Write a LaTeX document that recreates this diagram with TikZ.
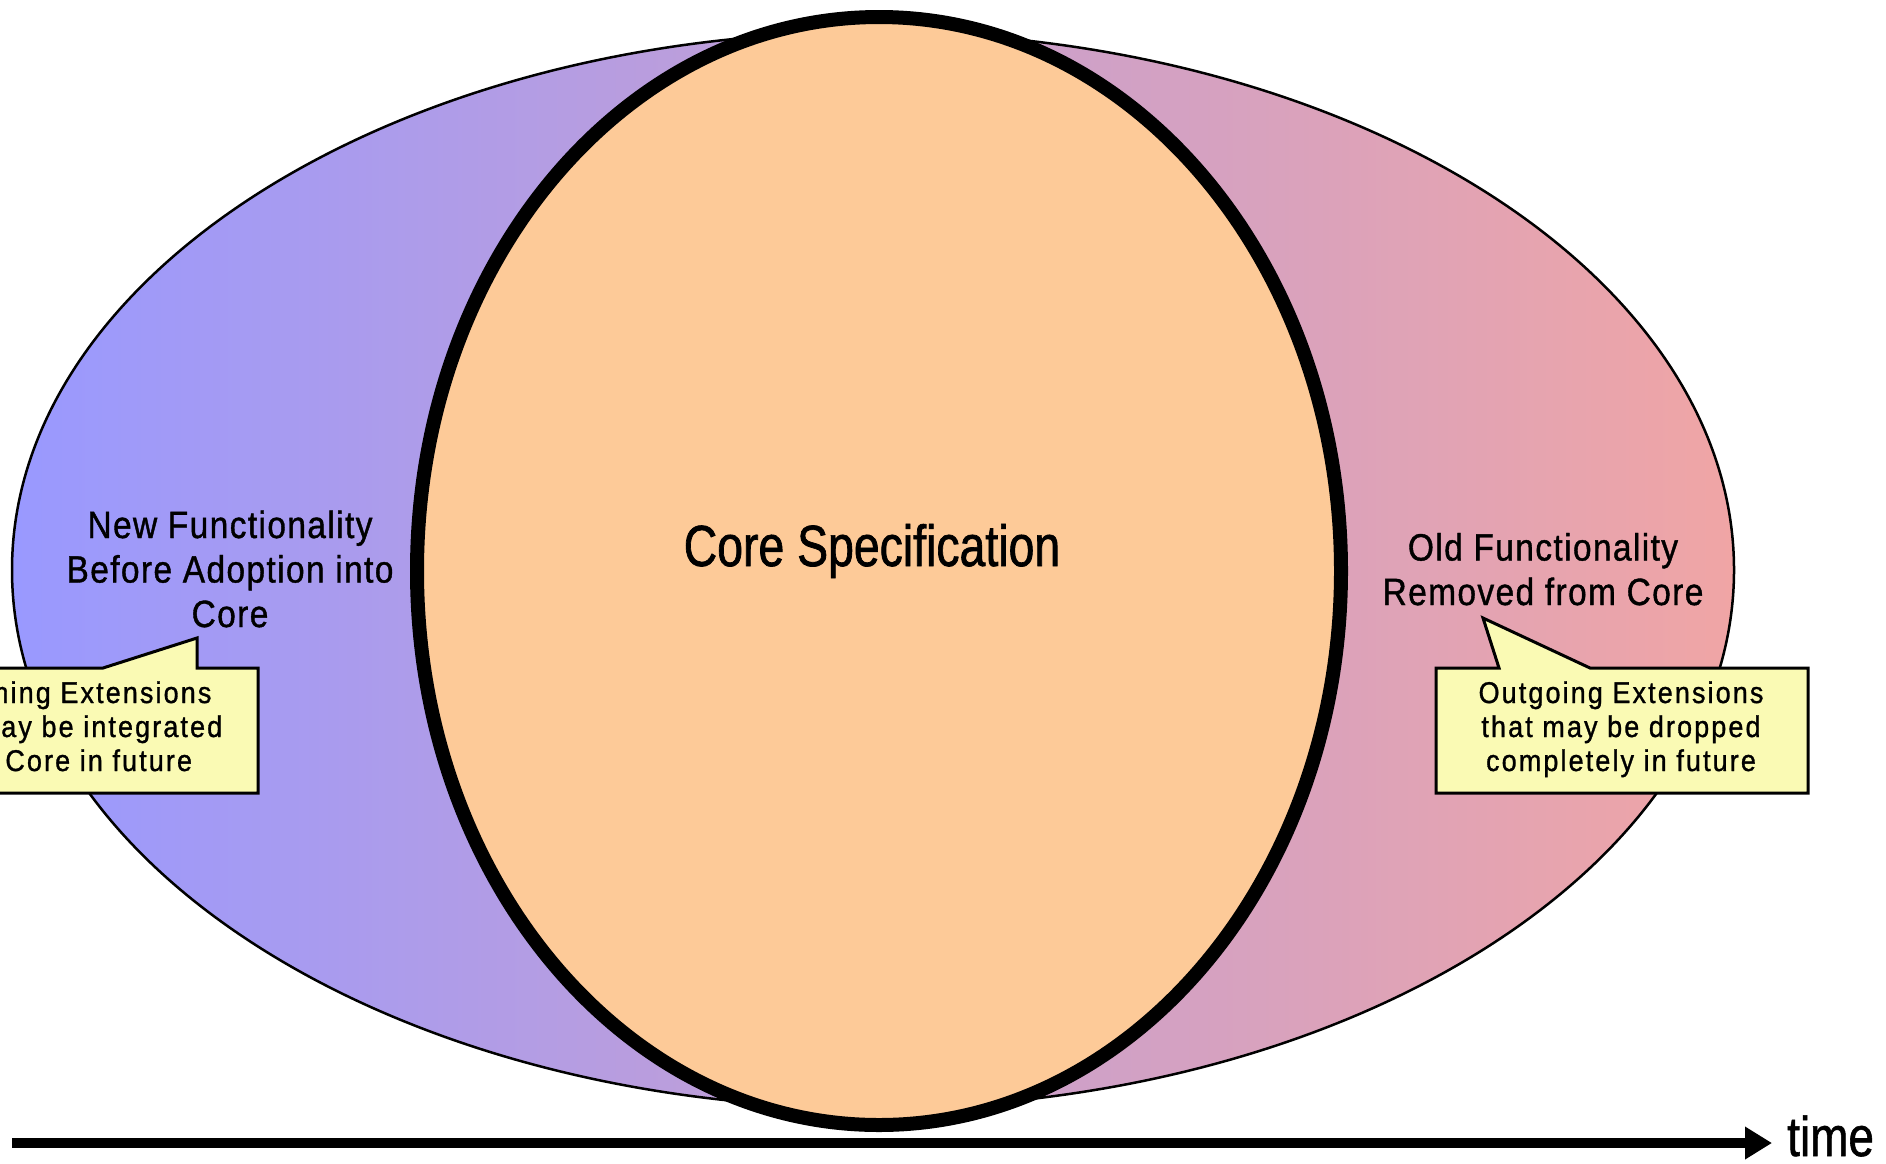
\documentclass[tikz,border=0pt]{standalone}
\usepackage{fontspec}
\setmainfont{Liberation Sans}
\newfontfamily\corefont[FakeStretch=0.80,FakeBold=1.2]{Liberation Sans}
\newfontfamily\labelfont[FakeStretch=0.88,LetterSpace=3.7,FakeBold=1]{Liberation Sans}
\newfontfamily\notefont[FakeStretch=0.90,LetterSpace=7,FakeBold=1]{Liberation Sans}
\newfontfamily\timefont[FakeStretch=0.82,FakeBold=1]{Liberation Sans}
\usetikzlibrary{arrows.meta}

\definecolor{newblue}{RGB}{153,153,255}
\definecolor{oldpink}{RGB}{240,165,165}
\definecolor{corefill}{RGB}{253,202,152}
\definecolor{notefill}{RGB}{250,250,180}

\begin{document}
\begin{tikzpicture}[x=1pt,y=-1pt,
  outer/.style={draw=black, line width=2.5pt, left color=newblue, right color=oldpink},
  corering/.style={draw=black, line width=14pt, fill=corefill},
  note/.style={draw=black, line width=3pt, fill=notefill, line join=miter},
  timeline/.style={line width=10pt, -{Triangle[length=27pt,width=31pt]}},
  sidelabel/.style={anchor=base, align=center, inner sep=0pt,
    font=\labelfont\fontsize{38}{44.5}\selectfont},
  notetext/.style={anchor=base, align=center, inner sep=0pt,
    font=\notefont\fontsize{30}{34}\selectfont}]
\clip (0,0) rectangle (1886,1163);

% the whole specification over time
\path[outer] (873,570) ellipse [x radius=861, y radius=538];

% the core
\path[corering] (879,571) ellipse [x radius=462, y radius=554];

% callout boxes
\path[note] (-120,668) -- (103,668) -- (197,638) -- (197,668) -- (258,668)
  -- (258,793) -- (-120,793) -- cycle;
\path[note] (1436,668) -- (1499,668) -- (1483,618) -- (1590,668) -- (1808,668)
  -- (1808,793) -- (1436,793) -- cycle;

% labels (base anchor sits on the last line)
\node[anchor=base, inner sep=0pt, font=\corefont\fontsize{58}{70}\selectfont]
  (core) at (872,566) {Core Specification};
\node[sidelabel] (newfn) at (230,627) {New Functionality\\Before Adoption into\\Core};
\node[sidelabel] (oldfn) at (1543,605) {Old Functionality\\Removed from Core};
\node[notetext] (incoming) at (69,771) {Incoming Extensions\\that may be integrated\\into Core in future};
\node[notetext] (outgoing) at (1621,771) {Outgoing Extensions\\that may be dropped\\completely in future};

% time axis
\coordinate (tstart) at (12,1143);
\coordinate (ttip) at (1772,1143);
\draw[timeline] (tstart) -- (ttip);
\node[anchor=base west, inner sep=0pt, font=\timefont\fontsize{56}{66}\selectfont]
  (time) at (1787,1156) {time};
\end{tikzpicture}
\end{document}
